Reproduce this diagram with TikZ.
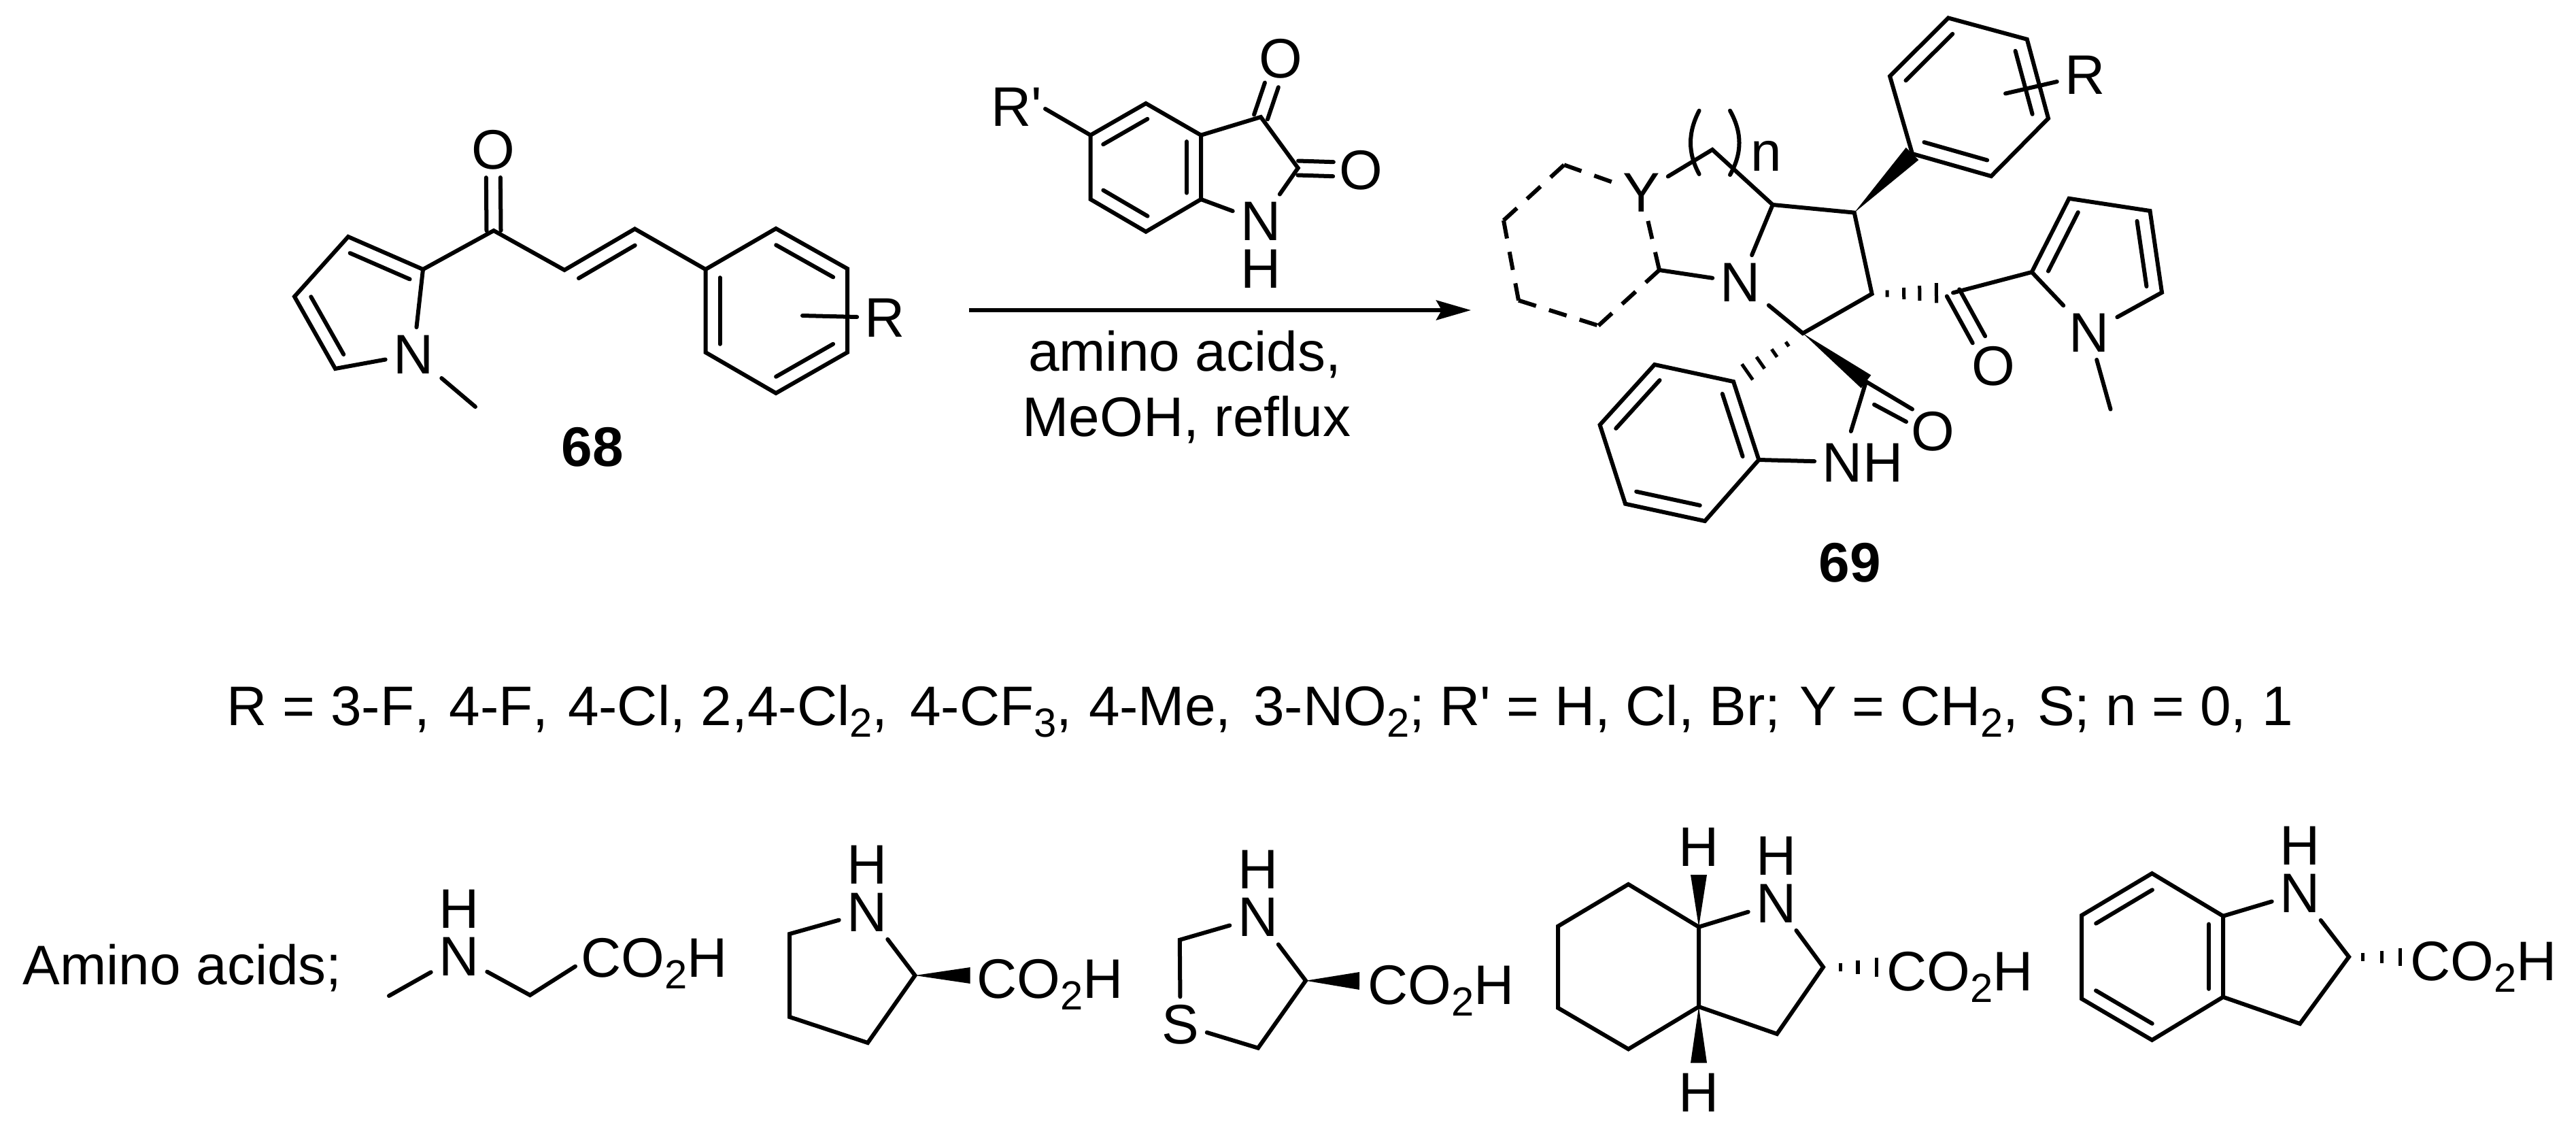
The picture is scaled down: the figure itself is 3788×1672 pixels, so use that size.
\documentclass[tikz,border=0pt]{standalone}
\usepackage{fontspec}
\setmainfont{Liberation Sans}[Ligatures=TeXOff,Kerning=Off]
\usetikzlibrary{calc,arrows.meta}
\newcommand\subs[1]{\raisebox{-.17cm}{\fontsize{17}{17}\selectfont #1}}
\newcommand\cotwoh{CO\subs{2}H}
% inner line of a double bond: to the left of travel a->b (rings listed counterclockwise)
\newcommand\ringd[2]{\draw[bond] ($(#1)!.1!(#2)!.21cm!90:(#2)$) -- ($(#2)!.1!(#1)!.21cm!-90:(#1)$);}
% symmetric C=O double bond, #3 = gap left before the centre of O
\newcommand\cdbl[3]{%
  \draw[bond] ($(#1)!.105cm!90:(#2)$) -- ($(#2)!#3!(#1)!.105cm!-90:(#1)$);
  \draw[bond] ($(#1)!.105cm!-90:(#2)$) -- ($(#2)!#3!(#1)!.105cm!90:(#1)$);}
% solid wedge from tip #1 to end #2 with half width #3
\newcommand\wedgeb[3]{\fill ($(#1)$) -- ($(#2)!#3!90:(#1)$) -- ($(#2)!#3!-90:(#1)$) -- cycle;}
% hashed bond: #3 = list of fraction/half length
\newcommand\hashb[3]{\foreach \f/\h in {#3}{\draw[hashline] ($(#1)!\f!(#2)!\h!90:(#2)$) -- ($(#1)!\f!(#2)!\h!-90:(#2)$);}}
\tikzset{
  bond/.style={line width=.06cm,line cap=round,line join=miter},
  hashline/.style={line width=.05cm},
  dashbond/.style={line width=.06cm,line cap=butt,dash pattern=on .27cm off .2cm},
  atom/.style={inner sep=.11cm,anchor=center},
  atomfree/.style={inner sep=0pt,anchor=center},
  txt/.style={inner sep=0pt,anchor=base west},
  txtc/.style={inner sep=0pt,anchor=base},
  cmpd/.style={inner sep=0pt,anchor=center,font=\fontsize{23.3}{28}\selectfont\bfseries},
}
\begin{document}
\begin{tikzpicture}[x=.01cm,y=-.01cm,font=\fontsize{23.3}{28}\selectfont]
\fill[white] (0,0) rectangle (3788,1672);
\useasboundingbox (0,0) rectangle (3788,1672);

% ---------- 68 ----------
\coordinate (a2) at (622,396); \coordinate (a3) at (512,348); \coordinate (a4) at (433,436);
\coordinate (a5) at (493,542); \coordinate (ame) at (699,598);
\coordinate (aco) at (726,339); \coordinate (aca) at (830,397); \coordinate (acb) at (933.5,336.5);
\coordinate (b1) at (1037.5,396); \coordinate (b2) at (1141,336); \coordinate (b3) at (1246,395);
\coordinate (b4) at (1246,518); \coordinate (b5) at (1141,578); \coordinate (b6) at (1037.5,518);
\coordinate (brs) at (1180,464);
\node[atom] (an) at (608,521) {N};
\node[atom] (ao) at (725,220) {O};
\node[atom] (ar) at (1301.5,467) {R};
\node[cmpd] (l68) at (871,657.5) {68};
\draw[bond] (a2) -- (a3) -- (a4) -- (a5) -- (an) -- (a2);
\draw[bond] (a2) -- (aco) -- (aca) -- (acb) -- (b1);
\draw[bond] (b1) -- (b2) -- (b3) -- (b4) -- (b5) -- (b6) -- cycle;
\draw[bond] (an) -- (ame);
\draw[bond] (brs) -- (ar);
\ringd{a2}{a3} \ringd{a4}{a5} \ringd{acb}{aca} \ringd{b1}{b6} \ringd{b5}{b4} \ringd{b3}{b2}
\cdbl{aco}{ao}{.41cm}

% ---------- isatin ----------
\coordinate (i1) at (1603.6,198.7); \coordinate (i2) at (1685,152); \coordinate (i3) at (1766,198.7);
\coordinate (i4) at (1766,293); \coordinate (i5) at (1685,340.6); \coordinate (i6) at (1603.6,293);
\coordinate (i7) at (1854,172); \coordinate (i8) at (1908.7,247); \coordinate (irs) at (1537,160);
\node[atomfree] (irp) at (1495,157) {R'};
\node[atom] (in) at (1854,325.5) {N};
\node[atomfree] (ih) at (1854,395.5) {H};
\node[atom] (io3) at (1883,86) {O};
\node[atom] (io2) at (2001.5,250) {O};
\draw[bond] (i1) -- (i2) -- (i3) -- (i4) -- (i5) -- (i6) -- cycle;
\draw[bond] (i1) -- (irs);
\draw[bond] (i3) -- (i7) -- (i8) -- (in) -- (i4);
\ringd{i2}{i1} \ringd{i4}{i3} \ringd{i6}{i5}
\cdbl{i7}{io3}{.41cm}
\cdbl{i8}{io2}{.41cm}

% ---------- arrow and conditions ----------
\coordinate (arL) at (1425,456); \coordinate (arR) at (2163,456);
\draw[line width=.055cm,-{Stealth[length=.51cm,width=.29cm,inset=.08cm]}] (arL) -- (arR);
\node[txtc] (c1) at (1742,545.5) {amino acids,};
\node[txtc] (c2) at (1745,641.5) {MeOH, reflux};

% ---------- 69 ----------
\coordinate (da) at (2300,242.4); \coordinate (db) at (2211,324); \coordinate (dc) at (2233,441.6);
\coordinate (dd) at (2350.5,478.7); \coordinate (de) at (2440,397);
\node[atom] (dy) at (2413.7,283) {Y};
\node[atom] (pn) at (2559.5,415) {N};
\coordinate (ch) at (2518,220); \coordinate (p1) at (2606.7,301); \coordinate (p2) at (2726.7,312.6);
\coordinate (p3) at (2752.6,432); \coordinate (sp) at (2651,490);
\draw[dashbond] (da) -- (dy);
\draw[dashbond] (da) -- (db);
\draw[dashbond] (db) -- (dc);
\draw[dashbond] (dc) -- (dd);
\draw[dashbond] (dd) -- (de);
\draw[dashbond] (de) -- (dy);
\draw[bond] (de) -- (pn);
\draw[bond] (dy) -- (ch) -- (p1) -- (p2) -- (p3) -- (sp) -- (pn) -- (p1);
\draw[bond] (2498.6,162.7) .. controls (2481.8,195) and (2481.8,225) .. (2498.6,256);
\draw[bond] (2544,162.7) .. controls (2562,195) and (2562,225) .. (2544,257);
\node[txtc] (nn) at (2597,251) {n};
% phenyl
\coordinate (q1) at (2812,226); \coordinate (q2) at (2779,112); \coordinate (q3) at (2865,26.4);
\coordinate (q4) at (2980.7,57.8); \coordinate (q5) at (3012,174); \coordinate (q6) at (2928,259);
\coordinate (qrs) at (2949,137.5);
\node[atom] (qr) at (3066,110.5) {R};
\wedgeb{p2}{q1}{.13cm}
\draw[bond] (q1) -- (q2) -- (q3) -- (q4) -- (q5) -- (q6) -- cycle;
\ringd{q1}{q6} \ringd{q5}{q4} \ringd{q3}{q2}
\draw[bond] (qrs) -- (qr);
% ketone and N-methylpyrrole
\coordinate (cc) at (2872,430.4); \coordinate (y1) at (2987.7,400); \coordinate (y2) at (3042.5,291.8);
\coordinate (y3) at (3161.5,310); \coordinate (y4) at (3179,430); \coordinate (yme) at (3103.5,601.6);
\node[atom] (yn) at (3072,489) {N};
\node[atom] (yo) at (2931.6,538.7) {O};
\hashb{p3}{cc}{.188/.05cm,.394/.084cm,.588/.11cm,.794/.146cm}
\draw[bond] (cc) -- (y1) -- (y2) -- (y3) -- (y4) -- (yn) -- (y1);
\draw[bond] (yn) -- (yme);
\ringd{y2}{y1} \ringd{y4}{y3}
\cdbl{cc}{yo}{.45cm}
% oxindole
\coordinate (cox) at (2744,561); \coordinate (r1) at (2549,561); \coordinate (r2) at (2433,536);
\coordinate (r3) at (2352.6,624.6); \coordinate (r4) at (2390,740.7); \coordinate (r5) at (2507,766);
\coordinate (r6) at (2586.3,676); \coordinate (nhtop) at (2721.8,634);
\coordinate (oe1) at (2812,601.6); \coordinate (os2) at (2756,594.8); \coordinate (oe2) at (2803,620);
\node[atom] (nh) at (2739,680) {NH};
\node[atomfree] (oo) at (2842.5,634) {O};
\node[cmpd] (l69) at (2720,827) {69};
\wedgeb{sp}{cox}{.12cm}
\hashb{sp}{r1}{.224/.04cm,.41/.07cm,.61/.105cm,.8/.14cm}
\draw[bond] (r1) -- (r2) -- (r3) -- (r4) -- (r5) -- (r6) -- cycle;
\ringd{r2}{r3} \ringd{r4}{r5} \ringd{r6}{r1}
\draw[bond] (r6) -- (nh);
\draw[bond] (cox) -- (nhtop);
\draw[bond] (cox) -- (oe1);
\draw[bond] (os2) -- (oe2);

% ---------- scope line ----------
\node[txt] (scope) at (333,1066) {R = 3-F,\kern.06cm{} 4-F,\kern.06cm{} 4-Cl, 2,4-Cl\subs{2},\kern.1cm{} 4-CF\subs{3},\kern.02cm{} 4-Me,\kern.1cm{} 3-NO\subs{2}; R' = H, Cl, Br;\kern.05cm{} Y = CH\subs{2},\kern.05cm{} S; n = 0, 1};

% ---------- amino acids ----------
\node[txt] (aa) at (33,1447.7) {Amino acids;};
% sarcosine
\coordinate (s1) at (572,1464); \coordinate (s2) at (779.4,1463); \coordinate (s3) at (846,1420.7);
\node[atom] (sn) at (675,1406) {N};
\node[atomfree] (sh) at (675,1336) {H};
\node[txt] (sco) at (854,1436) {\cotwoh};
\draw[bond] (s1) -- (sn) -- (s2) -- (s3);
% proline
\coordinate (pa) at (1161,1373); \coordinate (pb) at (1161,1495); \coordinate (pc) at (1276,1533);
\coordinate (pd) at (1345.5,1434); \coordinate (pw) at (1426.7,1434);
\node[atom] (prn) at (1275,1341) {N};
\node[atomfree] (prh) at (1275,1271) {H};
\node[txt] (pco) at (1436,1467.3) {\cotwoh};
\draw[bond] (prn) -- (pa) -- (pb) -- (pc) -- (pd) -- (prn);
\wedgeb{pd}{pw}{.12cm}
% thiazolidine
\coordinate (ta) at (1734.8,1381.7); \coordinate (tb) at (1850,1540.7); \coordinate (tc) at (1920,1441.7);
\coordinate (tw) at (1999,1442);
\node[atom] (tn) at (1849.6,1348.5) {N};
\node[atomfree] (th) at (1849.6,1278.5) {H};
\node[atom] (ts) at (1735.7,1506) {S};
\node[txt] (tco) at (2011,1476) {\cotwoh};
\draw[bond] (tn) -- (ta) -- (ts) -- (tb) -- (tc) -- (tn);
\wedgeb{tc}{tw}{.13cm}
% octahydroindole
\coordinate (oa) at (2394.5,1300); \coordinate (ob) at (2291,1361.7); \coordinate (oc) at (2291,1481.7);
\coordinate (od) at (2394.5,1542.3); \coordinate (of) at (2498,1480); \coordinate (og) at (2498,1362.7);
\coordinate (oi) at (2681,1421.7); \coordinate (oj) at (2613,1520); \coordinate (ok) at (2772,1421.7);
\coordinate (owt) at (2498,1286); \coordinate (owb) at (2498,1562.7);
\node[atomfree] (oh1) at (2498,1245) {H};
\node[atomfree] (oh2) at (2498,1606) {H};
\node[atom] (on) at (2612,1328) {N};
\node[atomfree] (onh) at (2612,1258) {H};
\node[txt] (oco) at (2773.5,1456) {\cotwoh};
\draw[bond] (og) -- (oa) -- (ob) -- (oc) -- (od) -- (of) -- cycle;
\draw[bond] (og) -- (on) -- (oi) -- (oj) -- (of);
\wedgeb{og}{owt}{.12cm}
\wedgeb{of}{owb}{.12cm}
\hashb{oi}{ok}{.28/.06cm,.56/.1cm,.857/.14cm}
% indoline
\coordinate (ia) at (3164.5,1284); \coordinate (ib) at (3061,1345.7); \coordinate (ic) at (3061,1468.3);
\coordinate (id) at (3164.5,1529); \coordinate (ie) at (3269,1465.7); \coordinate (if) at (3269,1346.7);
\coordinate (ig) at (3454,1406.7); \coordinate (ii) at (3382,1505); \coordinate (ij) at (3542,1406.7);
\node[atom] (jn) at (3382,1313) {N};
\node[atomfree] (jh) at (3382,1243) {H};
\node[txt] (jco) at (3543.5,1441) {\cotwoh};
\draw[bond] (ia) -- (ib) -- (ic) -- (id) -- (ie) -- (if) -- cycle;
\draw[bond] (if) -- (jn) -- (ig) -- (ii) -- (ie);
\ringd{ia}{ib} \ringd{ic}{id} \ringd{ie}{if}
\hashb{ig}{ij}{.234/.06cm,.545/.09cm,.852/.13cm}
\end{tikzpicture}
\end{document}
